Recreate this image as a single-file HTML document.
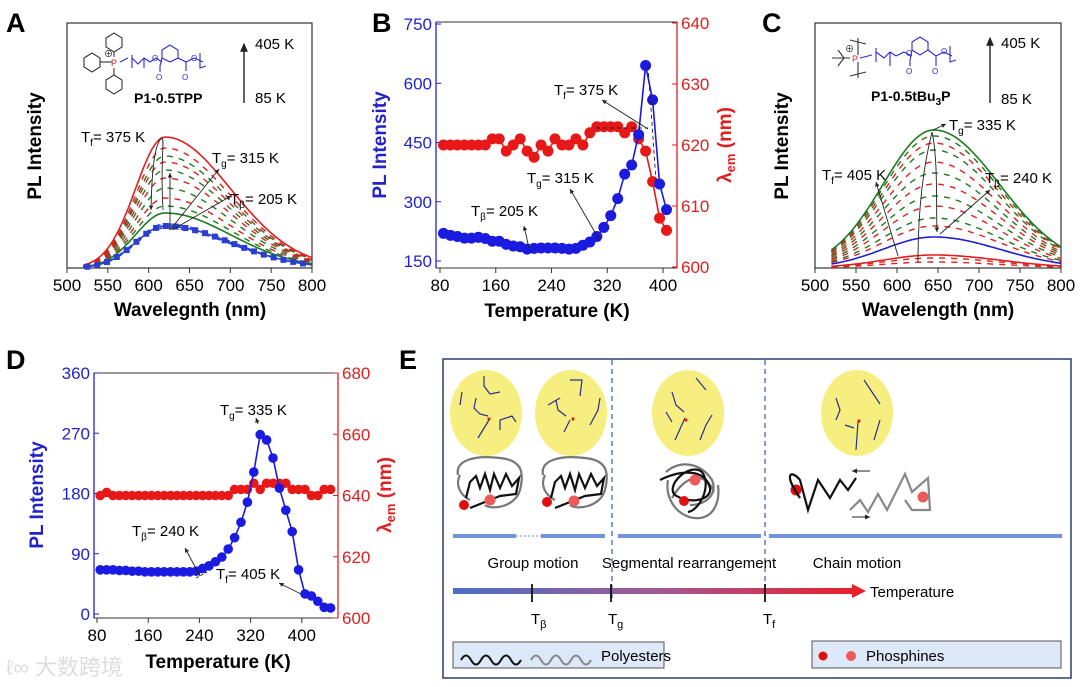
<!DOCTYPE html>
<html><head><meta charset="utf-8">
<style>
html,body{margin:0;padding:0;background:#fff;}
svg{display:block;font-family:"Liberation Sans","Noto Sans CJK SC",sans-serif;}
</style></head>
<body>
<svg id="fig" width="1080" height="687" viewBox="0 0 1080 687" xmlns="http://www.w3.org/2000/svg">
<defs>
<marker id="ah" markerWidth="8" markerHeight="8" refX="6" refY="3" orient="auto"><path d="M0,0 L7,3 L0,6 Z" fill="#222"/></marker>
<marker id="ahsm" markerWidth="6" markerHeight="6" refX="5" refY="2.5" orient="auto"><path d="M0,0 L5,2.5 L0,5 Z" fill="#222"/></marker>
<linearGradient id="tg" x1="0" x2="1" y1="0" y2="0"><stop offset="0" stop-color="#4a6fc4"/><stop offset="0.5" stop-color="#a05a9a"/><stop offset="1" stop-color="#e8202a"/></linearGradient>
</defs>

<text x="6" y="32" font-size="27" font-weight="bold">A</text>
<text x="372" y="32" font-size="27" font-weight="bold">B</text>
<text x="762" y="32" font-size="27" font-weight="bold">C</text>
<text x="6" y="369" font-size="27" font-weight="bold">D</text>
<text x="399" y="369" font-size="27" font-weight="bold">E</text>

<!-- Panel A -->
<g id="panelA">
<rect x="67" y="23" width="245" height="245" fill="none" stroke="#333" stroke-width="1.2"/>
<g id="specA"></g>
<g id="axA"></g>
<text transform="translate(41,146) rotate(-90)" text-anchor="middle" font-size="19" font-weight="bold">PL Intensity</text>
<text x="190" y="316" text-anchor="middle" font-size="19" font-weight="bold">Wavelegnth (nm)</text>
<g fill="none" stroke-width="1.1">
<g stroke="#333"><polygon points="84,58 92,53 100,58 100,67 92,72 84,67"/><polygon points="106,38 114,33 122,38 122,47 114,52 106,47"/><polygon points="106,80 114,75 122,80 122,89 114,94 106,89"/>
<line x1="100" y1="62" x2="112" y2="62"/><line x1="114" y1="52" x2="114" y2="57"/><line x1="114" y1="68" x2="114" y2="75"/></g>
<text x="111" y="66" font-size="9" fill="#e02020" stroke="none">P</text>
<text x="104" y="57" font-size="9" fill="#222" stroke="none">⊕</text>
<g stroke="#2b2bd0"><path d="M120,62 L128,58 M132,55 L132,68 M132,58 L138,64 L144,58 L150,62 M144,58 L144,68 M150,62 L156,58 L162,62"/>
<polygon points="162,50 170,45 178,50 178,58 170,62 162,58"/><path d="M162,58 L160,66 L160,72 M178,58 L186,62 L186,71 M186,62 L194,58 L203,62 M200,53 L200,68 L206,66"/></g>
<text x="152" y="61" font-size="8" fill="#2b2bd0" stroke="none">O</text><text x="156" y="80" font-size="8" fill="#2b2bd0" stroke="none">O</text><text x="182" y="80" font-size="8" fill="#2b2bd0" stroke="none">O</text><text x="191" y="61" font-size="8" fill="#2b2bd0" stroke="none">O</text>
</g>
<text x="134" y="103" font-size="14" font-weight="bold">P1-0.5TPP</text>
<line x1="244" y1="103" x2="244" y2="44" stroke="#111" stroke-width="1.3" marker-end="url(#ah)"/>
<text x="255" y="49" font-size="15">405 K</text>
<text x="255" y="103" font-size="15">85 K</text>
<text x="81" y="142" font-size="15">T<tspan font-size="10" dy="4">f</tspan><tspan dy="-4">= 375 K</tspan></text>
<text x="212" y="163" font-size="15">T<tspan font-size="10" dy="4">g</tspan><tspan dy="-4">= 315 K</tspan></text>
<text x="230" y="204" font-size="15">T<tspan font-size="10" dy="4">β</tspan><tspan dy="-4">= 205 K</tspan></text>
<g stroke="#222" stroke-width="0.9" fill="none">
<path d="M163,210 C160,160 165,140 162,138 C156,142 152,160 151,210" marker-end="url(#ahsm)"/>
<line x1="170" y1="230" x2="219" y2="169" marker-end="url(#ahsm)"/>
<line x1="172" y1="230" x2="231" y2="196" marker-end="url(#ahsm)"/>
<line x1="170" y1="230" x2="170" y2="173" marker-end="url(#ahsm)"/>
</g>
</g>

<!-- Panel C -->
<g id="panelC">
<rect x="815" y="23" width="246" height="245" fill="none" stroke="#333" stroke-width="1.2"/>
<g id="specC"></g>
<g id="axC"></g>
<text transform="translate(788,146) rotate(-90)" text-anchor="middle" font-size="19" font-weight="bold">PL Intensity</text>
<text x="938" y="316" text-anchor="middle" font-size="19" font-weight="bold">Wavelength (nm)</text>
<g fill="none" stroke-width="1.1">
<g stroke="#333"><path d="M832,58 L850,58 M838,50 L844,58 L838,66 M858,38 L858,55 M850,40 L866,44 M858,62 L858,78 M850,76 L866,72"/></g>
<text x="852" y="62" font-size="9" fill="#e02020" stroke="none">P</text>
<text x="845" y="52" font-size="9" fill="#222" stroke="none">⊕</text>
<g stroke="#2b2bd0"><path d="M860,58 L872,55 M876,48 L876,62 M876,52 L884,58 L890,52 L896,56 M890,52 L890,66 M896,56 L904,52 L912,56"/>
<polygon points="912,42 920,37 928,42 928,50 920,55 912,50"/><path d="M912,50 L910,60 L910,66 M928,50 L936,56 L936,66 M936,56 L944,52 L952,56 M950,46 L950,62 L956,60"/></g>
<text x="906" y="56" font-size="8" fill="#2b2bd0" stroke="none">O</text><text x="906" y="74" font-size="8" fill="#2b2bd0" stroke="none">O</text><text x="932" y="74" font-size="8" fill="#2b2bd0" stroke="none">O</text><text x="941" y="54" font-size="8" fill="#2b2bd0" stroke="none">O</text>
</g>
<text x="871" y="101" font-size="14" font-weight="bold">P1-0.5tBu<tspan font-size="10" dy="4">3</tspan><tspan dy="-4">P</tspan></text>
<line x1="990" y1="103" x2="990" y2="38" stroke="#111" stroke-width="1.3" marker-end="url(#ah)"/>
<text x="1001" y="48" font-size="15">405 K</text>
<text x="1001" y="104" font-size="15">85 K</text>
<text x="949" y="130" font-size="15">T<tspan font-size="10" dy="4">g</tspan><tspan dy="-4">= 335 K</tspan></text>
<text x="822" y="180" font-size="15">T<tspan font-size="10" dy="4">f</tspan><tspan dy="-4">= 405 K</tspan></text>
<text x="985" y="183" font-size="15">T<tspan font-size="10" dy="4">β</tspan><tspan dy="-4">= 240 K</tspan></text>
<g stroke="#222" stroke-width="0.9" fill="none">
<path d="M918,262 C918,200 925,160 932,132 C938,160 936,200 937,232" marker-end="url(#ahsm)"/>
<line x1="898" y1="256" x2="876" y2="182" marker-end="url(#ahsm)"/>
<line x1="940" y1="234" x2="990" y2="190" marker-end="url(#ahsm)"/>
<line x1="933" y1="130" x2="946" y2="124" marker-end="url(#ahsm)"/>
</g>
</g>

<!-- Panel B -->
<g id="panelB">
<rect x="436" y="22" width="241" height="246" fill="none" stroke="#333" stroke-width="1"/>
<line x1="436" y1="22" x2="436" y2="268" stroke="#2222cc" stroke-width="1.3"/>
<line x1="677" y1="22" x2="677" y2="268" stroke="#e02020" stroke-width="1.3"/>
<g id="axB"></g>
<g id="serB"></g>
<text transform="translate(386,145) rotate(-90)" text-anchor="middle" font-size="19" font-weight="bold" fill="#2222cc">PL Intensity</text>
<text transform="translate(731,145) rotate(-90)" text-anchor="middle" font-size="19" font-weight="bold" fill="#e02020">λ<tspan font-size="13" dy="4">em</tspan><tspan dy="-4"> (nm)</tspan></text>
<text x="557" y="317" text-anchor="middle" font-size="19" font-weight="bold">Temperature (K)</text>
<text x="554" y="95" font-size="15">T<tspan font-size="10" dy="4">f</tspan><tspan dy="-4">= 375 K</tspan></text>
<text x="527" y="183" font-size="15">T<tspan font-size="10" dy="4">g</tspan><tspan dy="-4">= 315 K</tspan></text>
<text x="471" y="216" font-size="15">T<tspan font-size="10" dy="4">β</tspan><tspan dy="-4">= 205 K</tspan></text>
<g stroke="#222" stroke-width="0.9" fill="none">
<line x1="648" y1="129" x2="602" y2="100" marker-end="url(#ahsm)"/>
<line x1="600" y1="241" x2="570" y2="189" marker-end="url(#ahsm)"/>
<line x1="529" y1="248" x2="524" y2="226" marker-end="url(#ahsm)"/>
<line x1="648" y1="66" x2="656" y2="181" stroke-dasharray="4,3"/>
<line x1="596" y1="128" x2="648" y2="128" stroke-dasharray="4,3"/>
</g>
</g>

<!-- Panel D -->
<g id="panelD">
<rect x="94" y="373" width="244" height="245" fill="none" stroke="#333" stroke-width="1"/>
<line x1="94" y1="373" x2="94" y2="618" stroke="#2222cc" stroke-width="1.3"/>
<line x1="338" y1="373" x2="338" y2="618" stroke="#e02020" stroke-width="1.3"/>
<g id="axD"></g>
<g id="serD"></g>
<text transform="translate(43,495) rotate(-90)" text-anchor="middle" font-size="19" font-weight="bold" fill="#2222cc">PL Intensity</text>
<text transform="translate(391,495) rotate(-90)" text-anchor="middle" font-size="19" font-weight="bold" fill="#e02020">λ<tspan font-size="13" dy="4">em</tspan><tspan dy="-4"> (nm)</tspan></text>
<text x="218" y="668" text-anchor="middle" font-size="19" font-weight="bold">Temperature (K)</text>
<text x="220" y="415" font-size="15">T<tspan font-size="10" dy="4">g</tspan><tspan dy="-4">= 335 K</tspan></text>
<text x="132" y="536" font-size="15">T<tspan font-size="10" dy="4">β</tspan><tspan dy="-4">= 240 K</tspan></text>
<text x="216" y="579" font-size="15">T<tspan font-size="10" dy="4">f</tspan><tspan dy="-4">= 405 K</tspan></text>
<g stroke="#222" stroke-width="0.9" fill="none">
<line x1="200" y1="576" x2="185" y2="548" marker-end="url(#ahsm)"/>
<line x1="258" y1="424" x2="256" y2="418" marker-end="url(#ahsm)"/>
<line x1="301" y1="594" x2="279" y2="583" marker-end="url(#ahsm)"/>
<line x1="196" y1="578" x2="207" y2="572" stroke-dasharray="3,2"/>
</g>
<text x="6" y="675" font-size="22" fill="#ddd">ℓ∞ 大数跨境</text>
</g>

<!-- Panel E -->
<g id="panelE">
<rect x="443" y="359" width="628" height="319" fill="#fff" stroke="#2a3d6a" stroke-width="1.5"/>
<g fill="#f6ee7e">
<ellipse cx="486" cy="413" rx="36" ry="43"/><ellipse cx="571" cy="413" rx="36" ry="43"/><ellipse cx="688" cy="413" rx="36" ry="43"/><ellipse cx="857" cy="413" rx="36" ry="43"/>
</g>
<g fill="none" stroke="#2b2b9a" stroke-width="1.2">
<path d="M476,398 L474,408 L480,414 L488,416 M462,392 L460,405 M484,376 L484,386 L490,394 L500,392 M478,438 L489,420 M500,430 L500,420 L512,416 L516,422"/>
<path d="M556,400 L558,410 L566,416 M570,380 L582,380 L580,396 M590,425 L598,410 L600,398 M564,432 L570,420 M548,405 L560,398"/>
<path d="M672,392 L676,405 L684,412 M696,378 L706,390 M712,415 L706,425 L700,440 M675,440 L685,418 M666,412 L672,422"/>
<path d="M836,398 L840,410 L836,420 M864,380 L872,392 L880,404 M880,420 L874,440 M856,450 L858,422 M845,425 L854,428"/>
</g>
<g fill="#e02020"><circle cx="489" cy="419" r="1.6"/><circle cx="573" cy="419" r="1.6"/><circle cx="686" cy="420" r="1.6"/><circle cx="859" cy="421" r="1.6"/></g>
<g fill="none" stroke-width="2.2">
<path d="M458,475 C455,460 475,455 500,458 C520,460 525,470 520,490 C515,508 490,510 485,505 M470,500 C460,495 455,485 460,475" stroke="#777"/>
<path d="M466,498 L470,482 L476,476 L480,488 L485,474 L490,490 L494,474 L500,488 L506,474 L512,486 L519,478 L516,494 L500,496 L485,502 L470,508" stroke="#111"/>
<path d="M543,475 C540,460 560,455 585,458 C605,460 610,470 605,490 C600,508 575,510 570,505 M555,500 C545,495 540,485 545,475" stroke="#777"/>
<path d="M551,498 L555,482 L561,476 L565,488 L570,474 L575,490 L579,474 L585,488 L591,474 L597,486 L604,478 L601,494 L585,496 L570,502 L555,508" stroke="#111"/>
<path d="M666,472 C680,460 700,462 712,480 C718,495 705,505 690,505 M668,480 C664,500 680,520 700,518 C715,516 720,500 718,485 M672,498 C685,475 705,470 714,492" stroke="#777"/>
<path d="M660,480 C680,470 705,468 710,488 C712,500 690,505 675,495 C665,485 690,462 702,472 C712,485 700,510 688,512" stroke="#111"/>
</g>
<g>
<circle cx="464" cy="505" r="5" fill="#e01010"/><circle cx="490" cy="500" r="5.5" fill="#ec5a5a"/>
<circle cx="547" cy="502" r="5" fill="#e01010"/><circle cx="574" cy="501" r="5.5" fill="#ec5a5a"/>
<circle cx="684" cy="501" r="5" fill="#e01010"/><circle cx="695" cy="480" r="5.5" fill="#ec5a5a"/>
<circle cx="796" cy="490" r="5.5" fill="#e01010"/><circle cx="923" cy="497" r="5.5" fill="#ec5a5a"/>
</g>
<g fill="none" stroke-width="2.2">
<path d="M800,498 C782,472 792,470 800,480 L808,510 L818,480 L830,498 L840,480 L848,490 L856,478" stroke="#111"/>
<path d="M850,510 L860,500 L868,512 L878,494 L887,510 L895,494 L905,474 L912,492 L928,478 L930,510 L912,510 L905,500" stroke="#888"/>
<line x1="870" y1="471" x2="852" y2="471" stroke="#222" stroke-width="1" marker-end="url(#ahsm)"/>
<line x1="852" y1="517" x2="870" y2="517" stroke="#222" stroke-width="1" marker-end="url(#ahsm)"/>
</g>
<g stroke="#2f5fb0" stroke-width="1.2" stroke-dasharray="5,4">
<line x1="612" y1="360" x2="612" y2="598"/><line x1="765" y1="360" x2="765" y2="598"/>
</g>
<g stroke="#7195d8" stroke-width="4">
<line x1="453" y1="536" x2="516" y2="536"/><line x1="541" y1="536" x2="605" y2="536"/><line x1="618" y1="536" x2="761" y2="536"/><line x1="769" y1="536" x2="1062" y2="536"/>
</g>
<line x1="516" y1="536" x2="541" y2="536" stroke="#7195d8" stroke-width="1" stroke-dasharray="2,2"/>
<text x="533" y="568" text-anchor="middle" font-size="15">Group motion</text>
<text x="689" y="568" text-anchor="middle" font-size="15">Segmental rearrangement</text>
<text x="857" y="568" text-anchor="middle" font-size="15">Chain motion</text>
<rect x="453" y="588" width="400" height="6" fill="url(#tg)"/>
<polygon points="852,584 866,591 852,598" fill="#e8202a"/>
<text x="870" y="597" font-size="15">Temperature</text>
<g stroke="#111" stroke-width="1.8"><line x1="532" y1="584" x2="532" y2="602"/><line x1="611" y1="584" x2="611" y2="602"/><line x1="765" y1="584" x2="765" y2="602"/></g>
<text x="531" y="624" font-size="15">T<tspan font-size="11" dy="4">β</tspan></text>
<text x="608" y="624" font-size="15">T<tspan font-size="11" dy="4">g</tspan></text>
<text x="763" y="624" font-size="15">T<tspan font-size="11" dy="4">f</tspan></text>
<rect x="453" y="642" width="211" height="26" fill="#dde8f8" stroke="#555"/>
<path d="M461,660 q5,-9 10,0 t10,0 t10,0 t10,0 t10,0 t10,0" fill="none" stroke="#111" stroke-width="2"/>
<path d="M531,660 q5,-9 10,0 t10,0 t10,0 t10,0 t10,0 t10,0" fill="none" stroke="#888" stroke-width="2"/>
<text x="601" y="661" font-size="15">Polyesters</text>
<rect x="812" y="641" width="249" height="27" fill="#dde8f8" stroke="#555"/>
<circle cx="823" cy="656" r="4.5" fill="#e01010"/>
<circle cx="851" cy="656" r="5" fill="#ec5a5a"/>
<text x="866" y="661" font-size="15">Phosphines</text>
</g>
</svg>

<script>
const tempsB = [85,95,105,115,125,135,145,155,165,175,185,195,205,215,225,235,245,255,265,275,285,295,305,315,325,335,345,355,365,375,385,395,405];
const plB = [220,215,212,208,208,210,207,200,200,192,188,186,180,182,183,183,183,182,180,182,190,198,212,235,265,308,370,393,470,645,558,345,280];
const lamB = [620,620,620,620,620,620,620,621,621,619,620,621,619,618,620,619,621,620,620,621,620,622,623,623,623,623,622,623,621,619,614,608,606];
const xTicksB = [80,160,240,320,400];
const yTicksB = [150,300,450,600,750];
const y2TicksB = [600,610,620,630,640];
const tempsD = [85,95,105,115,125,135,145,155,165,175,185,195,205,215,225,235,245,255,265,275,285,295,305,315,325,335,345,355,365,375,385,395,405,415,425,435,445];
const plD = [66,66,66,65,65,64,64,63,63,63,63,63,63,63,63,64,68,72,78,85,97,114,137,167,212,268,260,233,188,155,123,66,30,27,19,10,9];
const lamD = [640,641,640,640,640,640,640,640,640,640,640,640,640,640,640,640,640,640,640,640,640,642,642,642,644,642,644,644,644,644,642,642,642,640,640,642,642];
const xTicksD = [80,160,240,320,400];
const yTicksD = [0,90,180,270,360];
const y2TicksD = [600,620,640,660,680];
const wlTicks = [500,550,600,650,700,750,800];
const peaksA_blue = [40,42,44];
const peaksA_greenDash = [62,80,98,112];
const peaksA_redDash = [70,90,106,120];
const peakA_greenSolid = [55];
const peakA_redSolid = [131];
const peaksC_greenDash = [50,72,95,118,132];
const peaksC_redDash = [42,62,84,106,125,6,10];
const peakC_greenSolid = [138];
const peakC_blueSolid = [31];
const peakC_redSolid = [13];

const NS="http://www.w3.org/2000/svg";
function mk(tag,attrs,parent){const e=document.createElementNS(NS,tag);for(const k in attrs)e.setAttribute(k,attrs[k]);parent.appendChild(e);return e;}

function spectra(gid,x0,x1,base,peakWl,sL,sR,wlStart,sets){
  const g=document.getElementById(gid);
  const xs=w=>x0+(w-500)/300*(x1-x0);
  sets.forEach(s=>{
    s.peaks.forEach((p,i)=>{
      let d="";
      for(let w=wlStart;w<=800;w+=4){
        const s2=w<peakWl?sL:sR;
        const v=p*Math.exp(-Math.pow(w-peakWl,2)/(2*s2*s2));
        d+=(d?"L":"M")+xs(w).toFixed(1)+","+(base-v).toFixed(1);
      }
      const el=mk("path",{d:d,fill:"none",stroke:s.color,"stroke-width":s.dash?1.4:1.6},g);
      if(s.dash)el.setAttribute("stroke-dasharray","6,6");
      
      
    });
  });
  if(gid==="specA"){
    for(let w=525;w<=800;w+=12){
      const s2=w<peakWl?sL:sR;
      const v=42*Math.exp(-Math.pow(w-peakWl,2)/(2*s2*s2));
      const c=mk("rect",{x:xs(w)-3,y:base-v-3,width:6,height:6,fill:"#2a3fd0"},g);
      
      
    }
  }
}
spectra("specA",67,312,268,620,36,80,520,[
 {peaks:peaksA_blue,color:"#2a3fd0",dash:true,name:"spectrum-blue"},
 {peaks:peaksA_greenDash,color:"#1f7a1f",dash:true,name:"spectrum-green-dashed"},
 {peaks:peaksA_redDash,color:"#e02020",dash:true,name:"spectrum-red-dashed"},
 {peaks:peakA_greenSolid,color:"#1f7a1f",dash:false,name:"spectrum-green-solid"},
 {peaks:peakA_redSolid,color:"#e02020",dash:false,name:"spectrum-red-solid"},
 {peaks:[peaksA_blue[1]],color:"#2a3fd0",dash:false,name:"spectrum-blue-solid"}
]);
spectra("specC",815,1061,268,645,62,80,520,[
 {peaks:peaksC_greenDash,color:"#1f7a1f",dash:true,name:"spectrum-green-dashed"},
 {peaks:peaksC_redDash,color:"#e02020",dash:true,name:"spectrum-red-dashed"},
 {peaks:peakC_greenSolid,color:"#1f7a1f",dash:false,name:"spectrum-green-solid"},
 {peaks:peakC_blueSolid,color:"#2020d0",dash:false,name:"spectrum-blue-solid"},
 {peaks:peakC_redSolid,color:"#e02020",dash:false,name:"spectrum-red-solid"}
]);
function wlAxis(gid,x0,x1){
  const g=document.getElementById(gid);
  wlTicks.forEach(t=>{
    const x=x0+(t-500)/300*(x1-x0);
    mk("line",{x1:x,y1:268,x2:x,y2:273,stroke:"#333"},g);
    const tx=mk("text",{x:x,y:291,"text-anchor":"middle","font-size":17},g);tx.textContent=t;
    
    
  });
}
wlAxis("axA",67,312);wlAxis("axC",815,1061);

function dual(cfg){
  const ax=document.getElementById(cfg.ax), sg=document.getElementById(cfg.ser);
  const X=t=>cfg.xa+(t-80)*cfg.xk;
  const Y=v=>cfg.yb+(v-cfg.ymin)*(cfg.yt-cfg.yb)/(cfg.ymax-cfg.ymin);
  const Y2=v=>cfg.y2b+(v-cfg.y2min)*(cfg.y2t-cfg.y2b)/(cfg.y2max-cfg.y2min);
  cfg.xt.forEach(t=>{const x=X(t);mk("line",{x1:x,y1:cfg.bot,x2:x,y2:cfg.bot+5,stroke:"#333"},ax);
    const e=mk("text",{x:x,y:cfg.bot+23,"text-anchor":"middle","font-size":17},ax);e.textContent=t;
    
    });
  cfg.yt_.forEach(v=>{const y=Y(v);mk("line",{x1:cfg.left,y1:y,x2:cfg.left+5,y2:y,stroke:"#2222cc"},ax);
    const e=mk("text",{x:cfg.left-4,y:y+6,"text-anchor":"end","font-size":17,fill:"#2222cc"},ax);e.textContent=v;
    
    });
  cfg.y2t_.forEach(v=>{const y=Y2(v);mk("line",{x1:cfg.right,y1:y,x2:cfg.right-5,y2:y,stroke:"#e02020"},ax);
    const e=mk("text",{x:cfg.right+4,y:y+6,"font-size":17,fill:"#e02020"},ax);e.textContent=v;
    
    });
  [[cfg.lam,Y2,"#e81818","wavelength"],[cfg.pl,Y,"#1a1ae0","intensity"]].forEach(([arr,f,col,nm])=>{
    const d=arr.map((v,i)=>(i?"L":"M")+X(cfg.T[i]).toFixed(1)+","+f(v).toFixed(1)).join("");
    const p=mk("path",{d:d,fill:"none",stroke:col,"stroke-width":1.6},sg);
    
    
    arr.forEach((v,i)=>{const c=mk("circle",{cx:X(cfg.T[i]),cy:f(v),r:cfg.r,fill:col},sg);
      
      });
  });
}
dual({ax:"axB",ser:"serB",T:tempsB,pl:plB,lam:lamB,xt:xTicksB,yt_:yTicksB,y2t_:y2TicksB,
  xa:440,xk:0.697,ymin:150,ymax:750,yb:261,yt:24,y2min:600,y2max:640,y2b:267,y2t:23,bot:268,left:436,right:677,r:5.5});
dual({ax:"axD",ser:"serD",T:tempsD,pl:plD,lam:lamD,xt:xTicksD,yt_:yTicksD,y2t_:y2TicksD,
  xa:97,xk:0.64,ymin:0,ymax:360,yb:614,yt:373,y2min:600,y2max:680,y2b:618,y2t:373,bot:618,left:94,right:338,r:4.8});
</script>
</body></html>
